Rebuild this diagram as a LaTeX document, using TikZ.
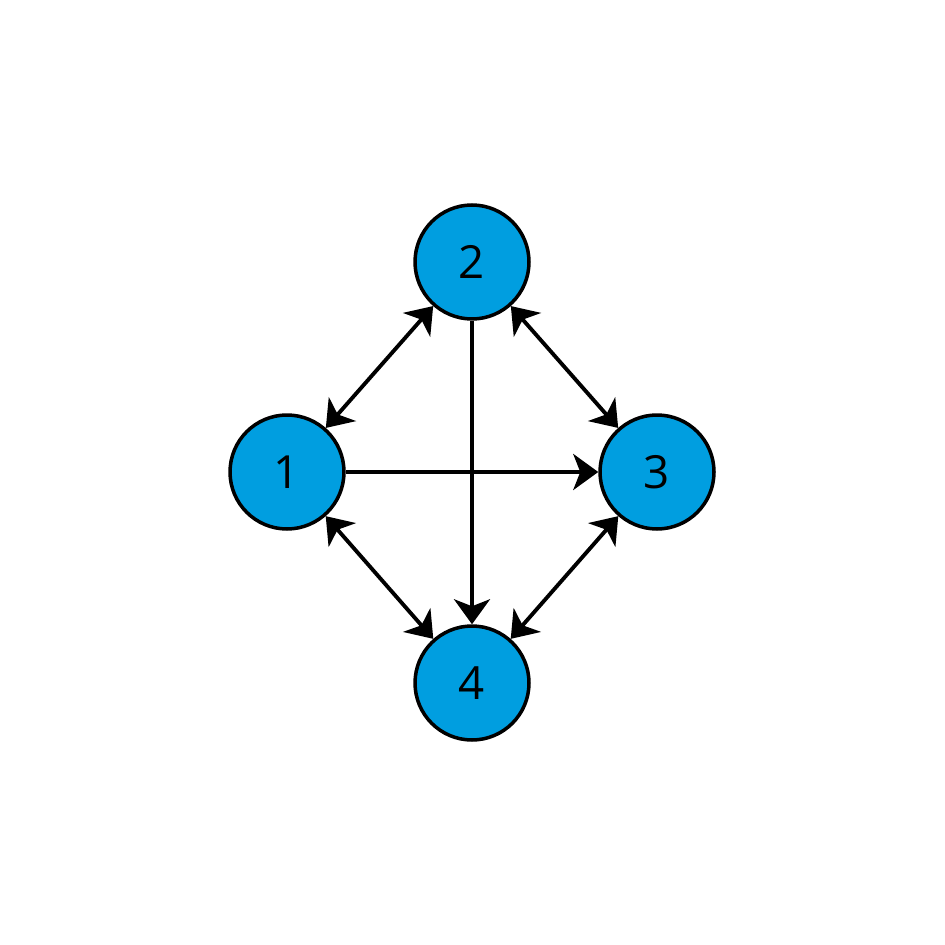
\documentclass[tikz,border=0pt]{standalone}
\usepackage{fontspec}
\setmainfont{Open Sans}
\usepackage{tikz}
\usetikzlibrary{arrows.meta}
\definecolor{nodeblue}{RGB}{0,158,224}

\begin{document}
\begin{tikzpicture}[x=0.02cm,y=-0.02cm,
  vert/.style={circle,draw,fill=nodeblue,line width=2pt,minimum size=2.28cm,inner sep=0pt,font=\fontsize{26}{30}\selectfont},
  link/.style={line width=2.2pt,-{Stealth[length=0.5cm,width=0.72cm,inset=0.14cm]}},
  both/.style={line width=2.2pt,{Stealth[length=0.5cm,width=0.72cm,inset=0.14cm]}-{Stealth[length=0.5cm,width=0.72cm,inset=0.14cm]}}]
  \useasboundingbox (0,0) rectangle (945,945);
  \node[vert] (n2) at (472,262) {2};
  \node[vert] (n1) at (287,472) {1};
  \node[vert] (n3) at (657,472) {3};
  \node[vert] (n4) at (472,683) {4};
  \draw[link] (n1) -- (n3);
  \draw[link] (n2) -- (n4);
  \draw[both] (n1) -- (n2);
  \draw[both] (n2) -- (n3);
  \draw[both] (n3) -- (n4);
  \draw[both] (n1) -- (n4);
\end{tikzpicture}
\end{document}
